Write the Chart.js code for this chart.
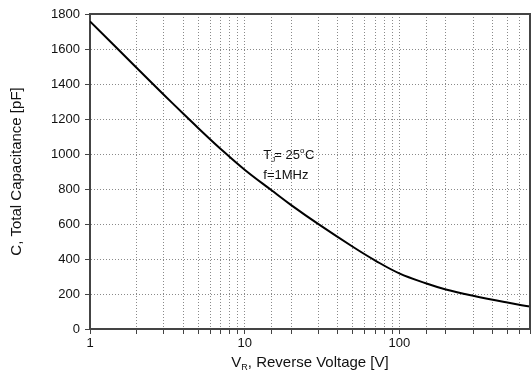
<!DOCTYPE html>
<html>
<head>
<meta charset="utf-8">
<script src="https://cdn.jsdelivr.net/npm/chart.js@4.4.0/dist/chart.umd.min.js"></script>
<style>
  html, body { margin: 0; padding: 0; background: #fff; }
  #wrap { width: 532px; height: 380px; }
</style>
</head>
<body>
<div id="wrap"><canvas id="capChart"></canvas></div>
<script>
// reverse voltage [V] and total capacitance [pF]
const voltage = [1, 2, 3, 4, 5, 7, 10, 15, 20, 30, 50, 70, 100, 150, 200, 300, 500, 700];
const capacitance = [1758, 1493, 1339, 1231, 1149, 1029, 910, 791, 708, 599, 470, 391, 318, 260, 226, 190, 151, 128];
const xLabels = [1, 10, 100];
const yMax = 1800;

const FONT = "'Liberation Sans', Arial, sans-serif";

// frame, axis titles and the T_J / f note
const extras = {
    id: "extras",
    afterDraw(chart) {
        const ctx = chart.ctx;
        const a = chart.chartArea;
        const x = chart.scales.x;
        const y = chart.scales.y;
        ctx.save();
        ctx.strokeStyle = "#444";
        ctx.lineWidth = 2;
        ctx.beginPath();
        ctx.moveTo(a.left, a.top);
        ctx.lineTo(a.right, a.top);
        ctx.lineTo(a.right, a.bottom);
        ctx.stroke();

        ctx.fillStyle = "#111";
        // y title
        ctx.font = "15px " + FONT;
        ctx.textAlign = "center";
        ctx.textBaseline = "middle";
        ctx.save();
        ctx.translate(17, (a.top + a.bottom) / 2);
        ctx.rotate(-Math.PI / 2);
        ctx.fillText("C, Total Capacitance [pF]", 0, 0);
        ctx.restore();

        // x title with subscript
        const main = ", Reverse Voltage [V]";
        ctx.font = "15px " + FONT;
        const wV = ctx.measureText("V").width;
        const wM = ctx.measureText(main).width;
        ctx.font = "9px " + FONT;
        const wR = ctx.measureText("R").width;
        let tx = (a.left + a.right) / 2 - (wV + wR + wM) / 2;
        const ty = 362;
        ctx.textAlign = "left";
        ctx.textBaseline = "alphabetic";
        ctx.font = "15px " + FONT;
        ctx.fillText("V", tx, ty + 5);
        ctx.font = "9px " + FONT;
        ctx.fillText("R", tx + wV, ty + 8);
        ctx.font = "15px " + FONT;
        ctx.fillText(main, tx + wV + wR, ty + 5);

        // annotation
        const ax = x.getPixelForValue(13.2);
        const ay = y.getPixelForValue(970);
        ctx.font = "13px " + FONT;
        ctx.fillText("T", ax, ay);
        const wT = ctx.measureText("T").width;
        ctx.font = "8px " + FONT;
        ctx.fillText("J", ax + wT, ay + 3);
        ctx.font = "13px " + FONT;
        ctx.fillText("= 25", ax + wT + 3, ay);
        const w25 = ctx.measureText("= 25").width;
        ctx.font = "8px " + FONT;
        ctx.fillText("o", ax + wT + 3 + w25, ay - 6);
        ctx.font = "13px " + FONT;
        ctx.fillText("C", ax + wT + 3 + w25 + 5, ay);
        ctx.fillText("f=1MHz", ax, ay + 20);
        ctx.restore();
    }
};

new Chart(document.getElementById("capChart"), {
    type: "line",
    data: {
        datasets: [{
            data: voltage.map((v, i) => ({ x: v, y: capacitance[i] })),
            borderColor: "#000",
            borderWidth: 2,
            pointRadius: 0,
            fill: false,
            tension: 0.4,
        }],
    },
    options: {
        responsive: true,
        maintainAspectRatio: false,
        animation: false,
        layout: { padding: { top: 14, right: 1, left: 0, bottom: 0 } },
        plugins: {
            legend: { display: false },
            tooltip: { enabled: false },
        },
        scales: {
            x: {
                type: "logarithmic",
                min: 1,
                max: 700,
                afterFit(s) { s.height = 51; },
                border: { display: true, color: "#444", width: 2, dash: [1, 2] },
                grid: {
                    color: "#8a8a8a",
                    lineWidth: 1,
                    drawTicks: true,
                    tickLength: 5,
                    tickColor: "#444",
                },
                ticks: {
                    autoSkip: false,
                    maxRotation: 0,
                    padding: 2,
                    color: "#111",
                    font: { family: FONT, size: 13 },
                    callback: (v) => xLabels.includes(v) ? String(v) : "",
                },
            },
            y: {
                min: 0,
                max: yMax,
                afterFit(s) { s.width = 90; },
                border: { display: true, color: "#444", width: 2, dash: [1, 2] },
                grid: {
                    color: "#8a8a8a",
                    lineWidth: 1,
                    drawTicks: true,
                    tickLength: 5,
                    tickColor: "#444",
                },
                ticks: {
                    stepSize: 100,
                    padding: 5,
                    color: "#111",
                    font: { family: FONT, size: 13 },
                    callback: (v) => v % 200 === 0 ? String(v) : "",
                },
            },
        },
    },
    plugins: [extras],
});
</script>
</body>
</html>
